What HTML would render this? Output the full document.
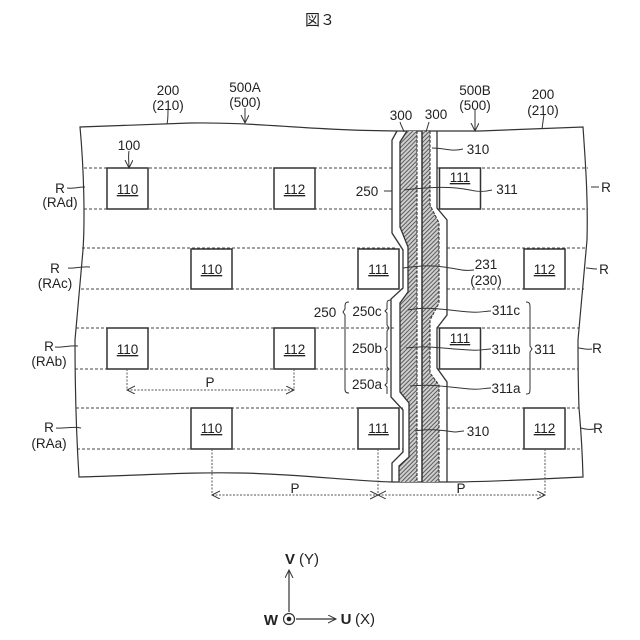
<!DOCTYPE html>
<html><head><meta charset="utf-8"><style>
html,body{margin:0;padding:0;background:#fff}
svg{display:block}
text{font-family:"Liberation Sans","Noto Sans CJK JP",sans-serif;font-size:13.5px;fill:#222;text-anchor:middle}
</style></head><body>
<svg width="640" height="640" viewBox="0 0 640 640" xmlns="http://www.w3.org/2000/svg">
<defs>
<pattern id="h" width="3" height="3" patternUnits="userSpaceOnUse" patternTransform="rotate(45)">
<rect width="3" height="3" fill="#cfcfcf"/><rect width="1" height="3" fill="#5c5c5c"/>
</pattern>
<marker id="a" markerWidth="10" markerHeight="10" refX="8" refY="4" orient="auto-start-reverse" markerUnits="userSpaceOnUse"><path d="M0 0L8 4L0 8" fill="none" stroke="#333" stroke-width="1"/></marker>
</defs>
<text x="320" y="25" style="font-size:15px">図３</text>

<!-- bands -->
<g stroke="#444" stroke-width="1" stroke-dasharray="3 2" fill="none">
<path d="M84 168H392M437 168H588"/><path d="M84 209H392M437 209H588"/>
<path d="M82 248H396M447 248H586"/><path d="M81 289H403M447 289H584"/>
<path d="M76 328H395M437 328H579"/><path d="M75 369H390M437 369H578"/>
<path d="M76 408H403M447 408H579"/><path d="M77 449H403M447 449H581"/>
</g>

<!-- outline -->
<path d="M397 131C300 130 260 122 190 123L80 127C84 170 85 220 83 250L75 340C75 380 76 430 79 477C150 475 190 472 240 473C300 474 350 481 392 482H447C490 482 540 479 583 477C582 440 580 420 579 408C578 380 578 360 578 340L587 240C588 200 586 170 583 127L480 131C470 131 460 131 397 131Z" fill="none" stroke="#333" stroke-width="1.2"/>

<!-- hatched strips -->
<path d="M407 131L400 142V227L408 247V292L400 303V392L409 403V457L399 466V482H417V131Z" fill="url(#h)"/>
<path d="M422 131V482H439V385L430 373V320L439 303V223L430 205V131Z" fill="url(#h)"/>
<g fill="none" stroke="#333" stroke-width="1.3">
<path d="M397 131L392 140V233L403 250V288L391 299V397L403 410V452L392 463V482"/>
<path d="M437 131V208L447 220V315L437 328V368L447 382V482"/>
<path d="M407 131L400 142V227L408 247V292L400 303V392L409 403V457L399 466V482"/>
<path d="M422 131V482" stroke-width="1.5"/>
</g>
<g fill="none" stroke="#333" stroke-width="1.1" stroke-dasharray="3 1.5">
<path d="M417 131V482"/>
<path d="M430 131V205L439 223V303L430 320V373L439 385V482"/>
</g>

<!-- boxes -->
<g fill="#fff" stroke="#333" stroke-width="1.5">
<rect x="107" y="168" width="41" height="41"/><rect x="274" y="168" width="41" height="41"/><rect x="439.500" y="168" width="41" height="41"/>
<rect x="191" y="249" width="41" height="40"/><rect x="358" y="249" width="41" height="40"/><rect x="524" y="249" width="41" height="40"/>
<rect x="107" y="328" width="41" height="41"/><rect x="274" y="328" width="41" height="41"/><rect x="439.500" y="328" width="41" height="41"/>
<rect x="191" y="408" width="41" height="41"/><rect x="358" y="408" width="41" height="41"/><rect x="524" y="408" width="41" height="41"/>
</g>
<g>
<text x="127.500" y="194" text-decoration="underline">110</text><text x="294.500" y="194" text-decoration="underline">112</text><text x="460" y="182" text-decoration="underline">111</text>
<text x="211.500" y="274" text-decoration="underline">110</text><text x="378.500" y="274" text-decoration="underline">111</text><text x="544.500" y="274" text-decoration="underline">112</text>
<text x="127.500" y="354" text-decoration="underline">110</text><text x="294.500" y="354" text-decoration="underline">112</text><text x="460" y="343" text-decoration="underline">111</text>
<text x="211.500" y="433" text-decoration="underline">110</text><text x="378.500" y="433" text-decoration="underline">111</text><text x="544.500" y="433" text-decoration="underline">112</text>
</g>

<!-- leaders -->
<g fill="none" stroke="#333" stroke-width="1">
<path d="M168 110C168 116 168 120 167 124"/>
<path d="M245 108V123" marker-end="url(#a)"/>
<path d="M400 122C401 126 403 128 404 132"/>
<path d="M429 122L426 132"/>
<path d="M475 110V131" marker-end="url(#a)"/>
<path d="M544 114L542 129"/>
<path d="M129 151C128 156 129 162 129 168" marker-end="url(#a)"/>
<path d="M67 188C72 189 78 187 85 187"/><path d="M68 268C74 269 80 266 90 267"/><path d="M55 347C62 348 70 345 78 346"/><path d="M56 428C64 429 72 426 81 428"/>
<path d="M591 187H599"/><path d="M586 268C590 268 592 269 597 269"/><path d="M578 348C582 348 586 350 592 349"/><path d="M581 428C585 429 589 430 594 429"/>
<path d="M432 148C445 148 450 152 463 149"/>
<path d="M392 191H384M404 190C430 187 450 186 470 190C478 192 484 192 492 190"/>
<path d="M403 268C430 264 440 266 462 270C468 271 472 270 474 270"/>
<path d="M408 310C430 306 445 310 470 312C480 313 485 311 491 311"/>
<path d="M406 348C430 345 445 349 470 350C480 351 485 349 491 349"/>
<path d="M410 386C430 384 440 386 470 389C480 390 485 388 491 388"/>
<path d="M415 431C430 428 445 431 455 432C458 432 461 431 464 431"/>
<!-- braces -->
<path d="M349 302C345 302 345 304 345 307V309L343 312L345 315V389C345 392 346 393 349 393"/>
<path d="M391 300C387 300 387 302 387 304V309L385 311L387 313V325L389 328L387 331V347L385 349L387 351V367L389 369L387 371V383L385 385L387 387V394"/>
<path d="M526 302C530 302 530 304 530 308V346L532 349L530 352V388C530 393 530 394 526 394"/>
<!-- dims -->
<g stroke="#555" stroke-dasharray="2 1.500">
<path d="M127 369V390"/><path d="M294 369V390"/><path d="M127 390H294" marker-start="url(#a)" marker-end="url(#a)"/>
<path d="M212 449V495"/><path d="M378 449V495"/><path d="M545 449V495"/>
<path d="M212 495H378" marker-start="url(#a)" marker-end="url(#a)"/>
<path d="M378 495H545" marker-start="url(#a)" marker-end="url(#a)"/>
</g>
<!-- axes -->
<path d="M289 612V570" stroke-width="1.200" marker-end="url(#a)"/>
<path d="M296 619H336" stroke-width="1.200" marker-end="url(#a)"/>
<circle cx="289" cy="619" r="5.500" fill="#fff" stroke-width="1.200"/>
</g>
<circle cx="289" cy="619" r="2.300" fill="#222"/>

<!-- labels -->
<text x="168" y="95">200</text><text x="168" y="110">(210)</text>
<text x="245" y="92">500A</text><text x="245" y="107">(500)</text>
<text x="401" y="120">300</text><text x="436" y="119">300</text>
<text x="475" y="95">500B</text><text x="475" y="110">(500)</text>
<text x="543" y="99">200</text><text x="543" y="115">(210)</text>
<text x="129" y="150">100</text>
<text x="60" y="193">R</text><text x="60" y="207">(RAd)</text>
<text x="55" y="273">R</text><text x="55" y="288">(RAc)</text>
<text x="49" y="351">R</text><text x="49" y="366">(RAb)</text>
<text x="49" y="432">R</text><text x="49" y="448">(RAa)</text>
<text x="606" y="192">R</text><text x="604" y="274">R</text><text x="597" y="353">R</text><text x="598" y="433">R</text>
<text x="478" y="154">310</text>
<text x="367" y="196">250</text>
<text x="507" y="194">311</text>
<text x="486" y="269">231</text><text x="486" y="285">(230)</text>
<text x="325" y="317">250</text>
<text x="367" y="316">250c</text><text x="367" y="353">250b</text><text x="367" y="389">250a</text>
<text x="506" y="315">311c</text><text x="506" y="354">311b</text><text x="506" y="393">311a</text>
<text x="545" y="354">311</text>
<text x="478" y="436">310</text>
<text x="210" y="387">P</text><text x="295" y="493">P</text><text x="461" y="493">P</text>
<text x="290" y="564" style="font-weight:bold;font-size:15px">V</text><text x="309" y="564" style="font-size:15px">(Y)</text>
<text x="271" y="625" style="font-weight:bold;font-size:15px">W</text>
<text x="346" y="624" style="font-weight:bold;font-size:15px">U</text><text x="365" y="624" style="font-size:15px">(X)</text>
</svg>
</body></html>
